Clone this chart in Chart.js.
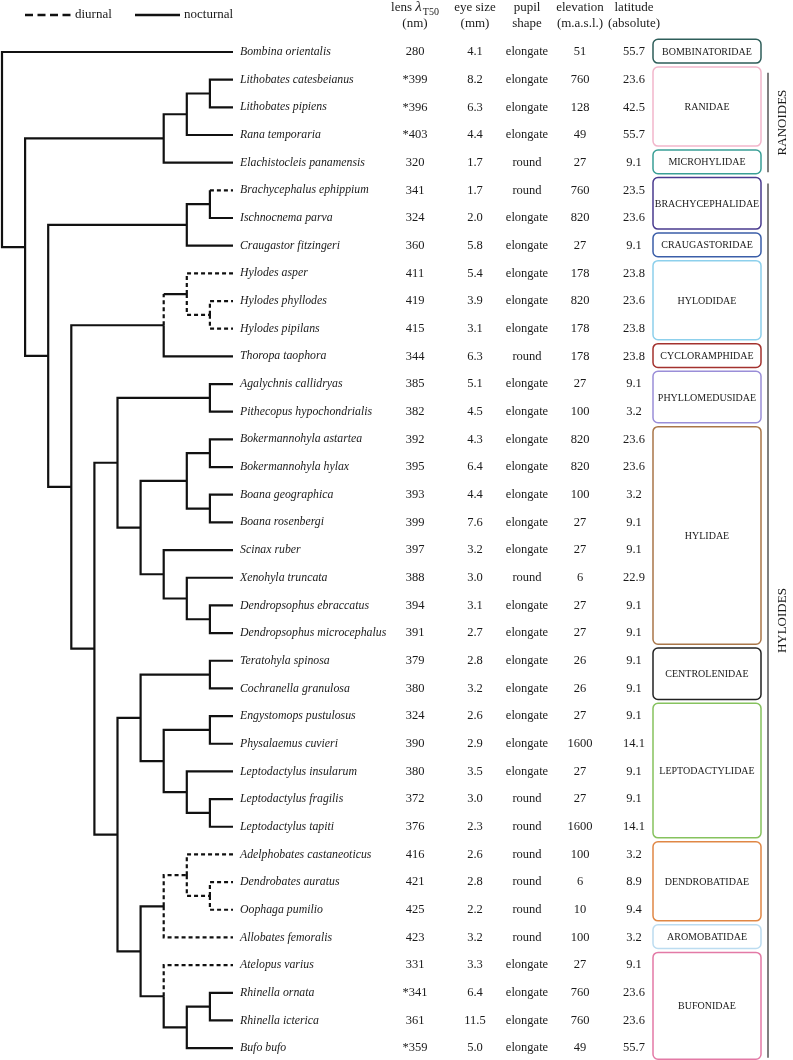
<!DOCTYPE html>
<html>
<head>
<meta charset="utf-8">
<script src="https://cdn.jsdelivr.net/npm/chart.js@4/dist/chart.umd.min.js"></script>
<style>
  html, body { margin: 0; padding: 0; background: #fff; overflow: hidden; }
  canvas { display: block; }
</style>
</head>
<body>
<canvas id="treeChart" width="793" height="1060"></canvas>
<script>
// species, top to bottom
const species = [
  'Bombina orientalis', 'Lithobates catesbeianus', 'Lithobates pipiens', 'Rana temporaria',
  'Elachistocleis panamensis', 'Brachycephalus ephippium', 'Ischnocnema parva', 'Craugastor fitzingeri',
  'Hylodes asper', 'Hylodes phyllodes', 'Hylodes pipilans', 'Thoropa taophora',
  'Agalychnis callidryas', 'Pithecopus hypochondrialis', 'Bokermannohyla astartea', 'Bokermannohyla hylax',
  'Boana geographica', 'Boana rosenbergi', 'Scinax ruber', 'Xenohyla truncata',
  'Dendropsophus ebraccatus', 'Dendropsophus microcephalus', 'Teratohyla spinosa', 'Cochranella granulosa',
  'Engystomops pustulosus', 'Physalaemus cuvieri', 'Leptodactylus insularum', 'Leptodactylus fragilis',
  'Leptodactylus tapiti', 'Adelphobates castaneoticus', 'Dendrobates auratus', 'Oophaga pumilio',
  'Allobates femoralis', 'Atelopus varius', 'Rhinella ornata', 'Rhinella icterica', 'Bufo bufo'
];
const lensT50 = [280, 399, 396, 403, 320, 341, 324, 360, 411, 419, 415, 344, 385, 382, 392, 395, 393, 399, 397,
  388, 394, 391, 379, 380, 324, 390, 380, 372, 376, 416, 421, 425, 423, 331, 341, 361, 359];
const lensStarred = [1, 2, 3, 34, 36];
const eyeSize = [4.1, 8.2, 6.3, 4.4, 1.7, 1.7, 2.0, 5.8, 5.4, 3.9, 3.1, 6.3, 5.1, 4.5, 4.3, 6.4, 4.4, 7.6, 3.2,
  3.0, 3.1, 2.7, 2.8, 3.2, 2.6, 2.9, 3.5, 3.0, 2.3, 2.6, 2.8, 2.2, 3.2, 3.3, 6.4, 11.5, 5.0];
const pupilShape = ['elongate', 'elongate', 'elongate', 'elongate', 'round', 'round', 'elongate', 'elongate',
  'elongate', 'elongate', 'elongate', 'round', 'elongate', 'elongate', 'elongate', 'elongate', 'elongate',
  'elongate', 'elongate', 'round', 'elongate', 'elongate', 'elongate', 'elongate', 'elongate', 'elongate',
  'elongate', 'round', 'round', 'round', 'round', 'round', 'round', 'elongate', 'elongate', 'elongate', 'elongate'];
const elevation = [51, 760, 128, 49, 27, 760, 820, 27, 178, 820, 178, 178, 27, 100, 820, 820, 100, 27, 27, 6,
  27, 27, 26, 26, 27, 1600, 27, 27, 1600, 100, 6, 10, 100, 27, 760, 760, 49];
const latitude = [55.7, 23.6, 42.5, 55.7, 9.1, 23.5, 23.6, 9.1, 23.8, 23.6, 23.8, 23.8, 9.1, 3.2, 23.6, 23.6,
  3.2, 9.1, 9.1, 22.9, 9.1, 9.1, 9.1, 9.1, 9.1, 14.1, 9.1, 9.1, 14.1, 3.2, 8.9, 9.4, 3.2, 9.1, 23.6, 23.6, 55.7];

// tree topology (leaf = row index)
const newick = '(0,((((1,2),3),4),(((5,6),7),(((8,(9,10)),11),(((12,13),(((14,15),(16,17)),(18,(19,(20,21))))),' +
  '(((22,23),((24,25),(26,(27,28)))),(((29,(30,31)),32),(33,((34,35),36)))))))))';
const diurnalLeaves = [5, 8, 9, 10, 29, 30, 31, 32, 33];
const diurnalClades = [[9, 10], [30, 31], [29, 30, 31], [8, 9, 10]];
const diurnalStemOnly = [5];
const nocturnalStems = ['8,9,10'];

const families = ['BOMBINATORIDAE', 'RANIDAE', 'MICROHYLIDAE', 'BRACHYCEPHALIDAE', 'CRAUGASTORIDAE', 'HYLODIDAE',
  'CYCLORAMPHIDAE', 'PHYLLOMEDUSIDAE', 'HYLIDAE', 'CENTROLENIDAE', 'LEPTODACTYLIDAE', 'DENDROBATIDAE',
  'AROMOBATIDAE', 'BUFONIDAE'];
const familyFirst = [0, 1, 4, 5, 7, 8, 11, 12, 14, 22, 24, 29, 32, 33];
const familyLast = [0, 3, 4, 6, 7, 10, 11, 13, 21, 23, 28, 31, 32, 36];
const familyColors = ['#2e5e5a', '#f2b6cb', '#3a9f96', '#4a3b8f', '#3b5ea8', '#8dd0ec', '#a3322e', '#9a8ed8',
  '#a97648', '#222222', '#86c25e', '#e08745', '#bcdcf0', '#e37aa6'];

const superfamilies = ['RANOIDES', 'HYLOIDES'];
const superFirst = [1, 5];
const superLast = [4, 36];

// --- parse tree
function parseNewick(s) {
  let i = 0;
  function node() {
    if (s[i] === '(') {
      i++;
      const kids = [];
      while (true) {
        kids.push(node());
        if (s[i] === ',') { i++; continue; }
        i++; break;
      }
      return { kids };
    }
    const j = i;
    while (/\d/.test(s[i])) i++;
    return { leaf: +s.slice(j, i) };
  }
  return node();
}

function layout(n) {
  if (n.kids) {
    n.kids.forEach(layout);
    n.h = 1 + Math.max(...n.kids.map(k => k.h));
    n.y = (n.kids[0].y + n.kids[n.kids.length - 1].y) / 2;
    n.leaves = n.kids.flatMap(k => k.leaves);
  } else {
    n.h = 0;
    n.y = n.leaf;
    n.leaves = [n.leaf];
  }
}

const root = parseNewick(newick);
layout(root);
const depth = root.h;

const dashedKeys = new Set([...diurnalLeaves.map(String), ...diurnalClades.map(c => c.join(','))]);
const solidPts = [], dashPts = [];

function addLine(pts, a) {
  a.forEach(p => pts.push(p));
  pts.push({ x: a[a.length - 1].x, y: null });
}

function walk(n) {
  if (!n.kids) return;
  const nx = depth - n.h;
  n.kids.forEach(c => {
    const key = c.leaves.join(',');
    const hDash = dashedKeys.has(key);
    const vDash = hDash && !(c.leaf !== undefined && diurnalStemOnly.includes(c.leaf));
    const cx = depth - c.h;
    const horizDash = hDash && !nocturnalStems.includes(key);
    if (vDash === horizDash) {
      addLine(horizDash ? dashPts : solidPts, [{ x: nx, y: n.y }, { x: nx, y: c.y }, { x: cx, y: c.y }]);
    } else {
      addLine(vDash ? dashPts : solidPts, [{ x: nx, y: n.y }, { x: nx, y: c.y }]);
      addLine(horizDash ? dashPts : solidPts, [{ x: nx, y: c.y }, { x: cx, y: c.y }]);
    }
    walk(c);
  });
}
walk(root);

const FONT = '"Liberation Serif", "Times New Roman", serif';
const INK = '#1a1a1a';

function roundRect(ctx, x, y, w, h, r) {
  ctx.beginPath();
  ctx.moveTo(x + r, y);
  ctx.lineTo(x + w - r, y);
  ctx.arcTo(x + w, y, x + w, y + r, r);
  ctx.lineTo(x + w, y + h - r);
  ctx.arcTo(x + w, y + h, x + w - r, y + h, r);
  ctx.lineTo(x + r, y + h);
  ctx.arcTo(x, y + h, x, y + h - r, r);
  ctx.lineTo(x, y + r);
  ctx.arcTo(x, y, x + r, y, r);
  ctx.closePath();
}

const overlay = {
  id: 'overlay',
  afterDatasetsDraw(chart) {
    const { ctx } = chart;
    const xs = chart.scales.x, ys = chart.scales.y;
    ctx.save();
    ctx.fillStyle = INK;
    ctx.textBaseline = 'middle';

    // legend
    ctx.strokeStyle = '#111';
    ctx.lineWidth = 2.5;
    ctx.setLineDash([8, 4.5]);
    ctx.beginPath(); ctx.moveTo(25, 15); ctx.lineTo(71, 15); ctx.stroke();
    ctx.setLineDash([]);
    ctx.beginPath(); ctx.moveTo(135, 15); ctx.lineTo(180, 15); ctx.stroke();
    ctx.font = '13px ' + FONT;
    ctx.textAlign = 'left';
    ctx.fillText('diurnal', 75, 15);
    ctx.fillText('nocturnal', 184, 15);

    // column headers
    const colX = { lens: 415, eye: 475, pupil: 527, elev: 580, lat: 634 };
    ctx.font = '13px ' + FONT;
    const w0 = ctx.measureText('lens ').width;
    ctx.font = 'italic 15px ' + FONT;
    const w1 = ctx.measureText('λ').width;
    ctx.font = '10px ' + FONT;
    const w2 = ctx.measureText('T50').width;
    const sx = colX.lens - (w0 + w1 + w2 + 1) / 2;
    ctx.textAlign = 'left';
    ctx.font = '13px ' + FONT;
    ctx.fillText('lens ', sx, 8);
    ctx.font = 'italic 15px ' + FONT;
    ctx.fillText('λ', sx + w0, 7);
    ctx.font = '10px ' + FONT;
    ctx.fillText('T50', sx + w0 + w1 + 1, 12);
    ctx.font = '13px ' + FONT;
    ctx.textAlign = 'center';
    ctx.fillText('(nm)', colX.lens, 24);
    ctx.fillText('eye size', colX.eye, 8);
    ctx.fillText('(mm)', colX.eye, 24);
    ctx.fillText('pupil', colX.pupil, 8);
    ctx.fillText('shape', colX.pupil, 24);
    ctx.fillText('elevation', colX.elev, 8);
    ctx.fillText('(m.a.s.l.)', colX.elev, 24);
    ctx.fillText('latitude', colX.lat, 8);
    ctx.fillText('(absolute)', colX.lat, 24);

    // rows
    const nameX = xs.getPixelForValue(depth) + 7;
    species.forEach((s, i) => {
      const y = ys.getPixelForValue(i);
      ctx.font = 'italic 11.8px ' + FONT;
      ctx.textAlign = 'left';
      ctx.fillText(s, nameX, y);
      ctx.font = '12.5px ' + FONT;
      ctx.textAlign = 'center';
      ctx.fillText((lensStarred.includes(i) ? '*' : '') + lensT50[i], colX.lens, y);
      ctx.fillText(eyeSize[i].toFixed(1), colX.eye, y);
      ctx.fillText(pupilShape[i], colX.pupil, y);
      ctx.fillText(String(elevation[i]), colX.elev, y);
      ctx.fillText(latitude[i].toFixed(1), colX.lat, y);
    });

    // family boxes
    ctx.lineWidth = 1.5;
    families.forEach((f, k) => {
      const top = ys.getPixelForValue(familyFirst[k] - 0.46);
      const bot = ys.getPixelForValue(familyLast[k] + 0.4);
      ctx.strokeStyle = familyColors[k];
      roundRect(ctx, 653, top, 108, bot - top, 5);
      ctx.stroke();
      ctx.font = '10px ' + FONT;
      ctx.fillStyle = INK;
      ctx.textAlign = 'center';
      ctx.fillText(f, 707, (top + bot) / 2 + 1);
    });

    // superfamily brackets
    ctx.strokeStyle = '#555';
    ctx.lineWidth = 1.5;
    superfamilies.forEach((s, k) => {
      const top = ys.getPixelForValue(superFirst[k] - 0.25);
      const bot = ys.getPixelForValue(superLast[k] + 0.35);
      ctx.beginPath(); ctx.moveTo(768, top); ctx.lineTo(768, bot); ctx.stroke();
      ctx.save();
      ctx.translate(783, (top + bot) / 2);
      ctx.rotate(-Math.PI / 2);
      ctx.font = '13px ' + FONT;
      ctx.fillStyle = INK;
      ctx.textAlign = 'center';
      ctx.fillText(s, 0, 0);
      ctx.restore();
    });
    ctx.restore();
  }
};

const ctx = document.getElementById('treeChart').getContext('2d');
new Chart(ctx, {
  type: 'line',
  data: {
    datasets: [
      { label: 'nocturnal', data: solidPts, borderColor: '#111', borderWidth: 2.2, pointRadius: 0,
        spanGaps: false, borderCapStyle: 'butt', borderJoinStyle: 'miter', tension: 0 },
      { label: 'diurnal', data: dashPts, borderColor: '#111', borderWidth: 2.2, pointRadius: 0,
        spanGaps: false, borderDash: [4, 3], borderCapStyle: 'butt', borderJoinStyle: 'miter', tension: 0 }
    ]
  },
  options: {
    responsive: false,
    animation: false,
    devicePixelRatio: 1,
    layout: { padding: 0 },
    plugins: { legend: { display: false }, tooltip: { enabled: false } },
    scales: {
      x: { type: 'linear', display: false, min: -2 / 23.1, max: (793 - 2) / 23.1 },
      y: { type: 'linear', display: false, reverse: true, min: -52 / 27.67, max: (1060 - 52) / 27.67 }
    }
  },
  plugins: [overlay]
});
</script>
</body>
</html>
